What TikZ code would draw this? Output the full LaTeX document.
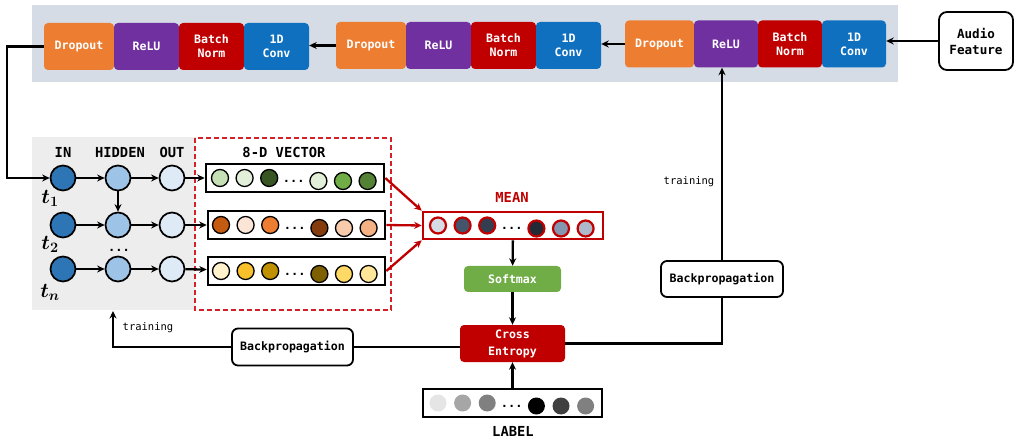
\documentclass[tikz,border=0pt]{standalone}
\usepackage{bm}
\usepackage{fontspec}
\setmonofont{DejaVu Sans Mono}
\usetikzlibrary{arrows.meta}

\definecolor{bandgray}{HTML}{D6DCE5}
\definecolor{panelgray}{HTML}{EDEDED}
\definecolor{dashred}{HTML}{D42028}
\definecolor{dropcol}{HTML}{ED7D31}
\definecolor{relucol}{HTML}{7030A0}
\definecolor{normcol}{HTML}{C00000}
\definecolor{convcol}{HTML}{0F70BF}
\definecolor{softcol}{HTML}{70AD47}
\definecolor{incol}{HTML}{2E75B6}
\definecolor{hidcol}{HTML}{9DC3E6}
\definecolor{outcol}{HTML}{DEEBF7}
% vector colours
\definecolor{ga}{HTML}{C5E0B4}
\definecolor{gb}{HTML}{E2F0D9}
\definecolor{gc}{HTML}{375623}
\definecolor{gd}{HTML}{70AD47}
\definecolor{ge}{HTML}{548235}
\definecolor{oa}{HTML}{C55A11}
\definecolor{ob}{HTML}{FBE5D6}
\definecolor{oc}{HTML}{ED7D31}
\definecolor{od}{HTML}{843C0C}
\definecolor{oe}{HTML}{F8CBAD}
\definecolor{ofc}{HTML}{F4B183}
\definecolor{ya}{HTML}{FFF2CC}
\definecolor{yb}{HTML}{F8C02A}
\definecolor{yc}{HTML}{BF9000}
\definecolor{yd}{HTML}{7F6000}
\definecolor{ye}{HTML}{FFD966}
\definecolor{yf}{HTML}{FFE699}
\definecolor{ma}{HTML}{D6DCE5}
\definecolor{mb}{HTML}{44546A}
\definecolor{mc}{HTML}{333F50}
\definecolor{md}{HTML}{222A35}
\definecolor{me}{HTML}{8497B0}
\definecolor{mf}{HTML}{ADB9CA}

\begin{document}
\begin{tikzpicture}[x=1pt, y=-1pt, node distance=24.6pt, >={Stealth[length=7.5pt,width=7pt]},
    every node/.style={font=\ttfamily\bfseries\fontsize{11.6}{14}\selectfont, inner sep=0pt},
    block/.style={rounded corners=4pt, text=white, minimum height=47pt, minimum width=65pt, align=center},
    unit/.style={circle, draw=black, line width=1.7pt, minimum size=25pt},
    dot/.style={circle, draw=black, line width=1.3pt, minimum size=17pt},
    mdot/.style={circle, draw=normcol, line width=2.2pt, minimum size=16pt},
    ldot/.style={circle, minimum size=17pt},
    dots/.style={yshift=-3pt, font=\ttfamily\bfseries\fontsize{12}{14}\selectfont},
    vecbox/.style={draw=black, fill=white, line width=2.6pt, minimum height=28pt, minimum width=178pt},
    whitebox/.style={draw=black, fill=white, rounded corners=6pt, line width=1.8pt, minimum height=37pt, minimum width=121pt},
    head/.style={font=\ttfamily\bfseries\fontsize{13.8}{16}\selectfont},
    tlab/.style={font=\rmfamily\fontsize{21}{24}\selectfont},
    trainlab/.style={font=\ttfamily\fontsize{10.5}{12}\selectfont},
    wire/.style={line width=2.3pt}]

    \useasboundingbox (0,0) rectangle (1035,443);

    % Backgrounds
    \fill[bandgray] (32,5) rectangle (898,82);
    \fill[panelgray] (32,137) rectangle (195,310);
    \draw[dashred, line width=1.3pt, dash pattern=on 5pt off 3pt] (195,138) rectangle (391,310);

    % Top network
    \node[block, fill=dropcol, minimum width=70pt] (d1) at (79,46.5) {Dropout};
    \node[block, fill=relucol] (r1) at (146.5,46.5) {ReLU};
    \node[block, fill=normcol] (n1) at (211.5,46.5) {Batch\\Norm};
    \node[block, fill=convcol] (c1) at (276.5,46.5) {1D\\Conv};

    \node[block, fill=dropcol, minimum width=70pt] (d2) at (371,45.5) {Dropout};
    \node[block, fill=relucol] (r2) at (438.5,45.5) {ReLU};
    \node[block, fill=normcol] (n2) at (503.5,45.5) {Batch\\Norm};
    \node[block, fill=convcol] (c2) at (568.5,45.5) {1D\\Conv};

    \node[block, fill=dropcol, minimum width=69pt] (d3) at (659.5,44) {Dropout};
    \node[block, fill=relucol, minimum width=64pt] (r3) at (726,44) {ReLU};
    \node[block, fill=normcol, minimum width=64pt] (n3) at (790,44) {Batch\\Norm};
    \node[block, fill=convcol, minimum width=64pt] (c3) at (854,44) {1D\\Conv};

    \node[whitebox, rounded corners=8pt, minimum width=74pt, minimum height=58pt, align=center,
          font=\ttfamily\bfseries\fontsize{12.6}{16}\selectfont] (audio) at (976,41) {Audio\\Feature};

    % Recurrent part
    \node[head] (inlab) at (63,152) {IN};
    \node[head] (hidlab) at (120,152) {HIDDEN};
    \node[head] (outlab) at (172,152) {OUT};
    \node[head] (veclab) at (284,152) {8-D VECTOR};

    \node[unit, fill=incol] (in1) at (63,178) {};
    \node[unit, fill=hidcol] (h1) at (118,178) {};
    \node[unit, fill=outcol] (o1) at (172,178) {};
    \node[unit, fill=incol] (in2) at (63,225) {};
    \node[unit, fill=hidcol] (h2) at (118,225) {};
    \node[unit, fill=outcol] (o2) at (172,225) {};
    \node[unit, fill=incol] (in3) at (63,269) {};
    \node[unit, fill=hidcol] (h3) at (118,269) {};
    \node[unit, fill=outcol] (o3) at (172,269) {};

    \node[tlab] (t1) at (50,198) {$\bm{t_1}$};
    \node[tlab] (t2) at (50,244) {$\bm{t_2}$};
    \node[tlab] (tn) at (50,292) {$\bm{t_n}$};
    \node[dots] (hdots) at (119,247) {...};

    % Vectors
    \node[vecbox] (vec1) at (295,178) {};
    \node[dot, fill=ga] (v1a) at (220,178) {};
    \node[dot, fill=gb, right of=v1a] (v1b) {};
    \node[dot, fill=gc, right of=v1b] (v1c) {};
    \node[dots, right of=v1c] (v1d) {...};
    \node[dot, fill=gb, right of=v1d] (v1e) {};
    \node[dot, fill=gd, right of=v1e] (v1f) {};
    \node[dot, fill=ge, right of=v1f] (v1g) {};

    \node[vecbox, minimum width=177pt] (vec2) at (296.5,225) {};
    \node[dot, fill=oa] (v2a) at (221,225) {};
    \node[dot, fill=ob, right of=v2a] (v2b) {};
    \node[dot, fill=oc, right of=v2b] (v2c) {};
    \node[dots, right of=v2c] (v2d) {...};
    \node[dot, fill=od, right of=v2d] (v2e) {};
    \node[dot, fill=oe, right of=v2e] (v2f) {};
    \node[dot, fill=ofc, right of=v2f] (v2g) {};

    \node[vecbox, minimum width=177pt] (vec3) at (296.5,271) {};
    \node[dot, fill=ya] (v3a) at (221,271) {};
    \node[dot, fill=yb, right of=v3a] (v3b) {};
    \node[dot, fill=yc, right of=v3b] (v3c) {};
    \node[dots, right of=v3c] (v3d) {...};
    \node[dot, fill=yd, right of=v3d] (v3e) {};
    \node[dot, fill=ye, right of=v3e] (v3f) {};
    \node[dot, fill=yf, right of=v3f] (v3g) {};

    % Mean
    \node[head, text=normcol] (meanlab) at (512,197) {MEAN};
    \node[vecbox, draw=normcol, minimum width=180pt, minimum height=27pt] (mean) at (513,225.5) {};
    \node[mdot, fill=ma] (ma) at (438,225.5) {};
    \node[mdot, fill=mb, right of=ma] (mb) {};
    \node[mdot, fill=mc, right of=mb] (mc) {};
    \node[dots, right of=mc] (mdots) {...};
    \node[mdot, fill=md, right of=mdots] (md) {};
    \node[mdot, fill=me, right of=md] (me) {};
    \node[mdot, fill=mf, right of=me] (mf) {};

    \node[block, fill=softcol, minimum width=97pt, minimum height=26pt] (soft) at (512.5,279) {Softmax};
    \node[block, fill=normcol, minimum width=105pt, minimum height=37pt,
          font=\ttfamily\bfseries\fontsize{11.6}{17}\selectfont] (ce) at (512.5,343.5) {Cross\\Entropy};

    % Label
    \node[vecbox, minimum width=179pt] (lab) at (512.5,403) {};
    \node[ldot, fill=black!10] (la) at (438,403) {};
    \node[ldot, fill=black!35, right of=la] (lb) {};
    \node[ldot, fill=black!50, right of=lb] (lc) {};
    \node[dots, right of=lc] (ldots) {...};
    \node[ldot, fill=black, right of=ldots] (ld) {};
    \node[ldot, fill=black!75, right of=ld] (le) {};
    \node[ldot, fill=black!50, right of=le] (lf) {};
    \node[head] (labtext) at (513,431) {LABEL};

    % Backpropagation
    \node[whitebox] (bpl) at (292.5,347) {Backpropagation};
    \node[whitebox, minimum width=122pt, minimum height=36pt] (bpr) at (722,279) {Backpropagation};
    \node[trainlab] (trl) at (148,328) {training};
    \node[trainlab] (trr) at (689,182) {training};
    \coordinate (bend) at (7,178);
    \coordinate (panel) at (113,311);

    % Edges
    \draw[wire, ->] (d2.west) -- (d2.west -| c1.east);
    \draw[wire, ->] (d3.west) -- (d3.west -| c2.east);
    \draw[wire, ->] (audio.west) -- (audio.west -| c3.east);
    \draw[wire, ->] (d1.west) -| (bend) -- (in1.west);

    \draw[wire, ->] (in1) -- (h1);
    \draw[wire, ->] (h1) -- (o1);
    \draw[wire, ->] (in2) -- (h2);
    \draw[wire, ->] (h2) -- (o2);
    \draw[wire, ->] (in3) -- (h3);
    \draw[wire, ->] (h3) -- (o3);
    \draw[wire, ->] (h1) -- (h2);
    \draw[wire, ->] (o1) -- (vec1);
    \draw[wire, ->] (o2) -- (vec2);
    \draw[wire, ->] (o3) -- (vec3);

    \draw[wire, normcol, ->] (vec1.east) -- (mean.north west);
    \draw[wire, normcol, ->] (vec2.east) -- (mean.west);
    \draw[wire, normcol, ->] (vec3.east) -- (mean.south west);

    \draw[wire, ->] (mean) -- (soft);
    \draw[wire, ->] (soft) -- (ce);
    \draw[wire, ->] (lab) -- (ce);

    \draw[wire] (bpl.east) -- (bpl.east -| ce.west);
    \draw[wire, ->] (bpl.west) -| (panel);
    \draw[wire] (ce.east) -| (bpr.south);
    \draw[wire, ->] (bpr.north) -- (bpr.north |- r3.south);

\end{tikzpicture}
\end{document}
